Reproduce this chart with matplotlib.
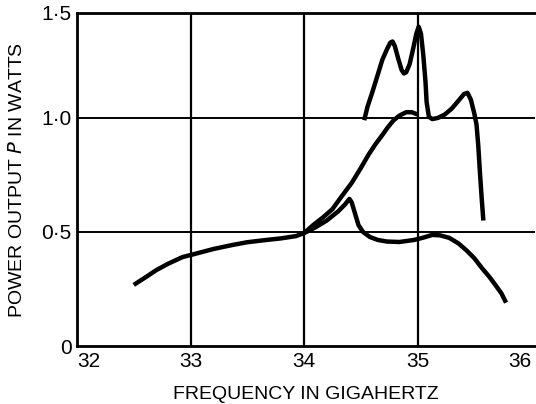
import matplotlib
matplotlib.use("Agg")
import matplotlib.pyplot as plt

# ---- data ----
x_ticks = [32, 33, 34, 35, 36]
x_tick_labels = ["32", "33", "34", "35", "36"]
y_ticks = [0, 0.5, 1.0, 1.46]
y_tick_labels = ["0", "0\u00b75", "1\u00b70", "1\u00b75"]

# common low-frequency part
base_f = [32.5, 32.6, 32.7, 32.8, 32.93, 33.01, 33.2, 33.37, 33.5, 33.67,
          33.8, 33.93, 34.0]
base_p = [0.268, 0.30, 0.333, 0.36, 0.39, 0.40, 0.425, 0.443, 0.455, 0.465,
          0.472, 0.482, 0.495]

# lower branch (peak near 34.4, then flat, then falling)
low_f = [34.0, 34.1, 34.2, 34.3, 34.36, 34.40, 34.42, 34.45, 34.48, 34.52,
         34.58, 34.65, 34.73, 34.84, 34.97, 35.05, 35.13, 35.2, 35.28, 35.36,
         35.43, 35.5, 35.57, 35.63, 35.69, 35.74, 35.78]
low_p = [0.495, 0.52, 0.55, 0.59, 0.62, 0.645, 0.63, 0.58, 0.53, 0.50,
         0.478, 0.465, 0.458, 0.456, 0.465, 0.475, 0.487, 0.485, 0.474, 0.45,
         0.42, 0.385, 0.34, 0.305, 0.265, 0.23, 0.19]

# middle branch rising to about 1 W
mid_f = [34.0, 34.08, 34.17, 34.25, 34.33, 34.42, 34.5, 34.57, 34.63, 34.69,
         34.74, 34.79, 34.84, 34.90, 34.95, 35.0]
mid_p = [0.495, 0.53, 0.565, 0.60, 0.655, 0.715, 0.78, 0.84, 0.885, 0.925,
         0.96, 0.99, 1.01, 1.025, 1.025, 1.015]

# upper multi-peaked curve
top_f = [34.53, 34.56, 34.6, 34.65, 34.69, 34.73, 34.76, 34.78, 34.80, 34.83,
         34.86, 34.88, 34.90, 34.93, 34.96, 34.99, 35.01, 35.03, 35.05, 35.07,
         35.08, 35.10, 35.13, 35.18, 35.24, 35.30, 35.36, 35.41, 35.44, 35.47,
         35.50, 35.52, 35.535, 35.55, 35.565, 35.58]
top_p = [0.99, 1.05, 1.11, 1.19, 1.255, 1.30, 1.33, 1.335, 1.315, 1.26,
         1.21, 1.195, 1.20, 1.235, 1.30, 1.37, 1.40, 1.37, 1.28, 1.16,
         1.07, 1.005, 0.995, 1.0, 1.015, 1.04, 1.075, 1.105, 1.11, 1.08,
         1.02, 0.97, 0.88, 0.76, 0.65, 0.55]

plt.rcParams['font.family'] = ['Liberation Sans', 'DejaVu Sans']

fig = plt.figure(figsize=(5.36, 4.04), dpi=100)
ax = fig.add_axes([77 / 536, 58 / 404, 458 / 536, 333 / 404])

ax.set_xlim(32, 36.035)
ax.set_ylim(0, 1.46)

# grid lines like the original graph paper
for gx in [33, 34, 35]:
    ax.axvline(gx, color="black", lw=1.6, zorder=1)
for gy in [0.5, 1.0]:
    ax.axhline(gy, color="black", lw=1.4, zorder=1)

line_kw = dict(color="black", lw=3.2, solid_capstyle="butt",
               solid_joinstyle="round", zorder=3)
ax.plot(base_f, base_p, **line_kw)
ax.plot(low_f, low_p, **line_kw)
ax.plot(mid_f, mid_p, **line_kw)
ax.plot(top_f, top_p, **line_kw)

for side in ["left", "top", "bottom"]:
    ax.spines[side].set_linewidth(2.0)
ax.spines["right"].set_visible(False)

ax.set_xticks(x_ticks)
ax.set_xticklabels(x_tick_labels, fontsize=15)
ax.set_yticks(y_ticks)
ax.set_yticklabels(y_tick_labels, fontsize=15)
ax.tick_params(length=0, pad=4)
ax.get_xticklabels()[0].set_ha("left")
ax.get_xticklabels()[-1].set_ha("right")

ax.set_xlabel("FREQUENCY IN GIGAHERTZ", fontsize=14, labelpad=11)
ax.set_ylabel("POWER OUTPUT $\\it{P}$ IN WATTS", fontsize=14, labelpad=11)

fig.savefig("out.png", dpi=100)
